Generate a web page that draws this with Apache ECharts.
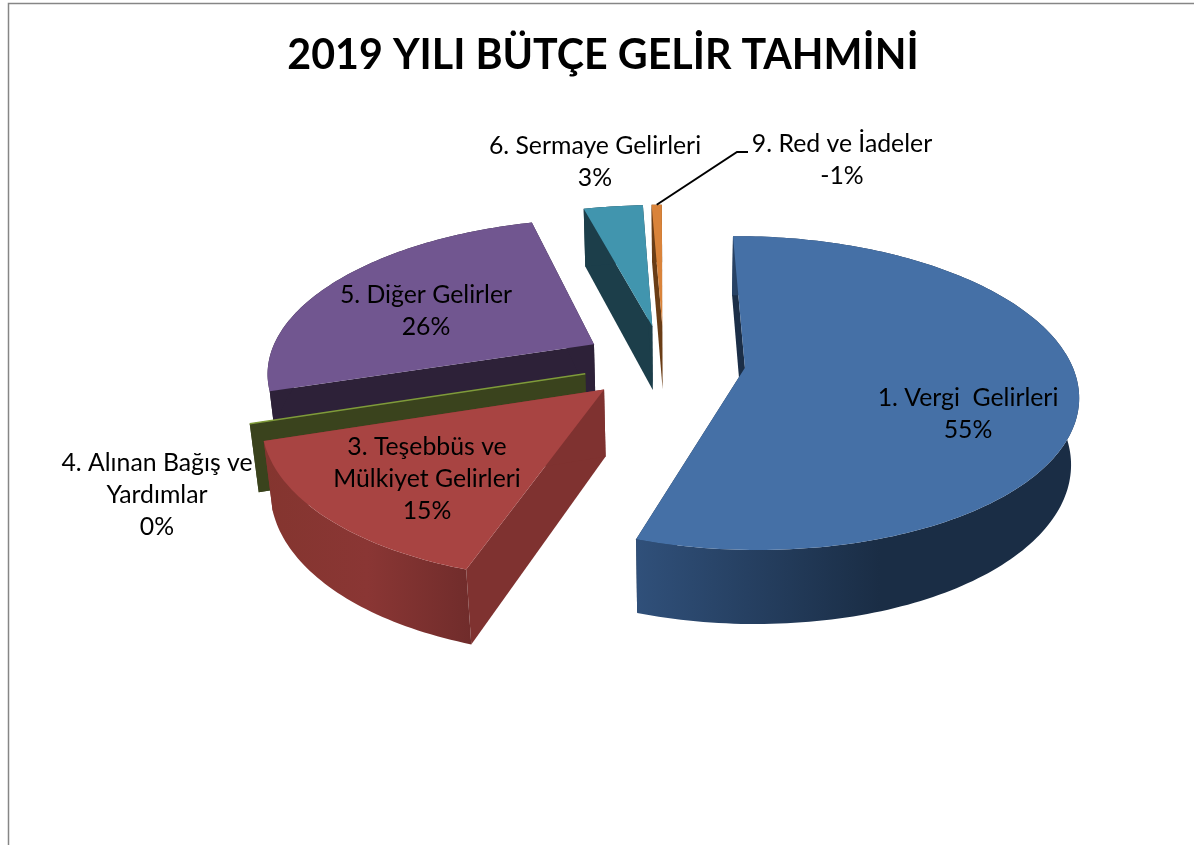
<!DOCTYPE html>
<html>
<head>
<meta charset="utf-8">
<style>html,body{margin:0;padding:0;background:#fff}#c{width:1194px;height:845px}</style>
<script src="https://cdn.jsdelivr.net/npm/echarts@6/dist/echarts.min.js"></script>
</head>
<body>
<div id="c"></div>
<script>
// ---- data ----
const titleText = '2019 YILI BÜTÇE GELİR TAHMİNİ';
const categories = ['1. Vergi  Gelirleri', '3. Teşebbüs ve\nMülkiyet Gelirleri', '4. Alınan Bağış ve\nYardımlar', '5. Diğer Gelirler', '6. Sermaye Gelirleri', '9. Red ve İadeler'];
const values = [55.2, 15, 0, 25.7, 3.49, -0.6];

// ---- styles ----
const topColors  = ['#4570a6', '#a84442', '#7f9b3a', '#715690', '#4195ae', '#d9833a'];
const sideColors = ['#1b2e47', '#7f3230', '#3a431d', '#2d2138', '#1c3e4a', '#6a3d16'];
const wallStops  = [
  [[0, '#30507a'], [0.55, '#1a2d45'], [1, '#1a2d45']],
  [[0, '#84352f'], [0.5, '#8a3634'], [1, '#702c2b']],
  null, null, null, null
];
const labelAnchors = [[968, 414], [427, 479], [157, 495], [426, 311], [595, 162], [842, 160]];
const leaderIndex = 5;
const leaderElbow = [[737, 152], [748, 152]];

// ---- 3-D projection of the pie ----
const CAM_X = 680, CAM_Y = 362, PERSP = 0.16, PERSP_Z = 0.02;
const SCALE_X = 326, SCALE_Y = 151, OFFSET_X = -16, THICK = 67, EXPLODE = 0.25;
const START_ANGLE = -0.6 * Math.PI / 180;
function project(u, v, z) {
  const w = 1 - PERSP * v + PERSP_Z * z;
  return [CAM_X + (OFFSET_X + SCALE_X * u) / w, CAM_Y + (SCALE_Y * v + THICK * z) / w];
}
const total = values.reduce((s, x) => s + Math.abs(x), 0);
let running = 0;
const slices = values.map((val, i) => {
  const a0 = START_ANGLE + running / total * 2 * Math.PI;
  running += Math.abs(val);
  const a1 = START_ANGLE + running / total * 2 * Math.PI;
  const mid = (a0 + a1) / 2;
  return { i, a0, a1, ux: EXPLODE * Math.sin(mid), vx: -EXPLODE * Math.cos(mid) };
});
function rim(s, a, z) { return project(s.ux + Math.sin(a), s.vx - Math.cos(a), z); }
function arc(s, z) {
  const n = Math.max(2, Math.ceil((s.a1 - s.a0) / 0.02)), pts = [];
  for (let k = 0; k <= n; k++) pts.push(rim(s, s.a0 + (s.a1 - s.a0) * k / n, z));
  return pts;
}
const paintOrder = slices.slice().sort((p, q) => p.vx - q.vx).map(s => s.i);

function renderSlice(params, api) {
  const i = paintOrder[params.dataIndex];
  const s = slices[i];
  const apexT = project(s.ux, s.vx, 0), apexB = project(s.ux, s.vx, 1);
  const side = sideColors[i];
  const poly = (points, fill, extra) => ({ type: 'polygon', shape: { points }, style: Object.assign({ fill }, extra || {}) });
  const wallFill = wallStops[i] ? new echarts.graphic.LinearGradient(0, 0, 1, 0,
      wallStops[i].map(st => ({ offset: st[0], color: st[1] }))) : side;
  const children = [
    poly([apexT, rim(s, s.a0, 0), rim(s, s.a0, 1), apexB], side),
    poly([apexT, rim(s, s.a1, 0), rim(s, s.a1, 1), apexB], side),
    poly(arc(s, 0).concat(arc(s, 1).reverse()), wallFill),
    poly([apexT].concat(arc(s, 0)), topColors[i],
      values[i] === 0 ? { stroke: topColors[i], lineWidth: 1.5 } : null)
  ];
  if (i === leaderIndex) {
    children.push({ type: 'polyline', z2: 50,
      shape: { points: [rim(s, (s.a0 + s.a1) / 2, 0)].concat(leaderElbow) },
      style: { fill: null, stroke: '#000', lineWidth: 2 } });
  }
  children.push({ type: 'text', z2: 100, style: {
    text: categories[i] + '\n' + Math.round(api.value(0)) + '%',
    x: labelAnchors[i][0], y: labelAnchors[i][1],
    align: 'center', verticalAlign: 'middle',
    fontFamily: 'Lato', fontSize: 24.8, lineHeight: 32, fill: '#000'
  } });
  return { type: 'group', children };
}

const chart = echarts.init(document.getElementById('c'), null, { renderer: 'canvas' });
chart.setOption({
  animation: false,
  backgroundColor: '#fff',
  title: {
    text: titleText, left: 598, top: 30, textAlign: 'center',
    textStyle: { fontFamily: 'Lato', fontWeight: 'bold', fontSize: 41.2, color: '#000' }
  },
  graphic: [{
    type: 'polyline', silent: true,
    shape: { points: [[8.5, 845], [8.5, 3.5], [1194, 3.5]] },
    style: { fill: null, stroke: '#868686', lineWidth: 1.5 }
  }],
  series: [{
    type: 'custom',
    coordinateSystem: 'none',
    renderItem: renderSlice,
    data: paintOrder.map(i => ({ name: categories[i], value: [values[i]] }))
  }]
});
</script>
</body>
</html>
